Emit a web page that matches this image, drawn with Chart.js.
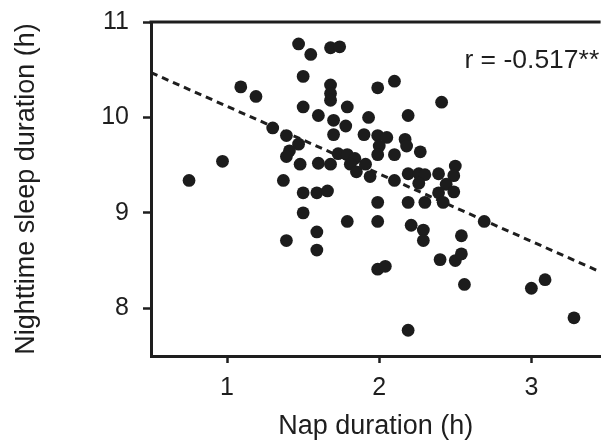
<!DOCTYPE html>
<html><head><meta charset="utf-8">
<script src="https://cdn.jsdelivr.net/npm/chart.js@4/dist/chart.umd.min.js"></script>
<style>html,body{margin:0;padding:0;background:#fff;overflow:hidden}</style>
</head><body>
<canvas id="c" width="607" height="443"></canvas>
<script>
const napHours = [0.75,0.97,1.09,1.19,1.30,1.39,1.47,1.41,1.39,1.37,
  1.48,1.39,1.47,1.55,1.68,1.74,1.50,1.50,1.68,1.68,
  1.68,1.60,1.79,1.70,1.70,1.78,1.93,1.99,2.10,2.19,
  2.41,1.90,1.99,2.05,2.00,1.99,2.10,2.17,2.18,2.27,
  1.73,1.79,1.84,1.81,1.85,1.91,1.94,1.60,1.68,2.10,
  2.19,2.26,2.30,2.26,2.39,2.50,2.49,2.44,2.39,2.49,
  2.42,1.50,1.59,1.66,1.50,1.79,1.59,1.59,1.99,1.99,
  2.19,2.30,2.21,2.29,2.29,2.69,2.54,2.40,2.50,2.54,
  1.99,2.04,2.56,3.00,3.09,2.19,3.28];
const nightSleepHours = [9.34,9.54,10.32,10.22,9.89,9.81,9.72,9.65,9.59,9.34,
  9.51,8.71,10.77,10.66,10.73,10.74,10.43,10.11,10.34,10.25,
  10.18,10.02,10.11,9.97,9.82,9.91,10.00,10.31,10.38,10.02,
  10.16,9.82,9.81,9.79,9.70,9.61,9.61,9.77,9.70,9.64,
  9.62,9.61,9.57,9.51,9.43,9.51,9.38,9.52,9.51,9.34,
  9.41,9.41,9.40,9.31,9.41,9.49,9.39,9.30,9.21,9.22,
  9.11,9.21,9.21,9.23,9.00,8.91,8.80,8.61,9.11,8.91,
  9.11,9.11,8.87,8.82,8.71,8.91,8.76,8.51,8.50,8.57,
  8.41,8.44,8.25,8.21,8.30,7.77,7.90];
const fitX = [0.5, 3.455];
const fitY = [10.47, 8.38];
const xTicks = [1, 2, 3];
const yTicks = [8, 9, 10, 11];
const xRange = [0.5, 3.455];
const yRange = [7.5, 11];
const rLabel = 'r = -0.517**';
const rLabelAt = [2.56, 10.59];
const xTitle = 'Nap duration (h)';
const yTitle = 'Nighttime sleep duration (h)';

const INK = '#1e1e1e';
const FONT = '"Liberation Sans", Arial, sans-serif';

const points = napHours.map((x, i) => ({x, y: nightSleepHours[i]}));
const fitLine = fitX.map((x, i) => ({x, y: fitY[i]}));

const framePlugin = {
  id: 'frame',
  afterDatasetsDraw(chart) {
    const {ctx, chartArea: a, scales} = chart;
    ctx.save();
    ctx.strokeStyle = INK;
    ctx.lineWidth = 3;
    ctx.beginPath();
    ctx.moveTo(a.left - 1.5, a.top);
    ctx.lineTo(a.right, a.top);
    ctx.stroke();
    ctx.fillStyle = INK;
    ctx.font = '26.5px ' + FONT;
    ctx.textAlign = 'left';
    ctx.textBaseline = 'middle';
    ctx.fillText(rLabel, scales.x.getPixelForValue(rLabelAt[0]), scales.y.getPixelForValue(rLabelAt[1]));
    ctx.restore();
  }
};

new Chart(document.getElementById('c'), {
  type: 'scatter',
  data: {
    datasets: [
      {
        data: points,
        backgroundColor: '#1c1c1c',
        borderWidth: 0,
        pointRadius: 6.4,
        order: 1
      },
      {
        data: fitLine,
        showLine: true,
        borderColor: INK,
        borderWidth: 3,
        borderDash: [7, 5],
        pointRadius: 0,
        order: 2
      }
    ]
  },
  options: {
    responsive: false,
    animation: false,
    layout: {padding: {top: 22, right: 0, left: 0, bottom: 0}},
    plugins: {legend: {display: false}, tooltip: {enabled: false}},
    scales: {
      x: {
        type: 'linear',
        min: xRange[0], max: xRange[1],
        afterBuildTicks: s => { s.ticks = xTicks.map(v => ({value: v})); },
        afterFit: s => { s.height = 87; s.paddingLeft = 0; s.paddingRight = 0; },
        grid: {drawOnChartArea: false, drawTicks: true, tickLength: 7, tickWidth: 2.5, tickColor: INK},
        border: {display: true, color: INK, width: 3},
        ticks: {color: INK, font: {family: FONT, size: 25}, padding: 10, maxRotation: 0},
        title: {display: true, text: xTitle, color: INK, font: {family: FONT, size: 27}, padding: {top: 0, bottom: 0}}
      },
      y: {
        type: 'linear',
        min: yRange[0], max: yRange[1],
        afterBuildTicks: s => { s.ticks = yTicks.map(v => ({value: v})); },
        afterFit: s => { s.width = 151; s.paddingTop = 0; s.paddingBottom = 0; },
        grid: {drawOnChartArea: false, drawTicks: true, tickLength: 8, tickWidth: 2.5, tickColor: INK},
        border: {display: true, color: INK, width: 3},
        ticks: {color: INK, font: {family: FONT, size: 25}, padding: 14},
        title: {display: true, text: yTitle, color: INK, font: {family: FONT, size: 27}, padding: {top: 10, bottom: 0}}
      }
    }
  },
  plugins: [framePlugin]
});
</script>
</body></html>
